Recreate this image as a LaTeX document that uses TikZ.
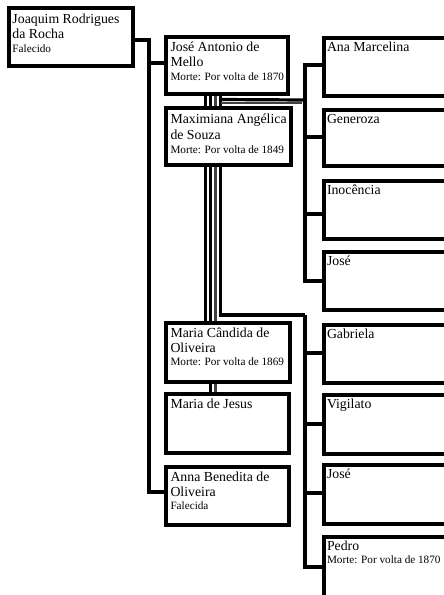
\documentclass[tikz,border=0pt]{standalone}
\usepackage{fontspec}
\setmainfont{Liberation Serif}
\usetikzlibrary{calc}
\pgfdeclarelayer{bg}
\pgfdeclarelayer{lines}
\pgfsetlayers{bg,lines,main}
\tikzset{
  pbox/.style={draw=black, line width=4pt, fill=white, rectangle, inner sep=0pt, outer sep=0pt, anchor=north west},
  conn/.style={draw=black, line width=4pt},
  cpl/.style={draw=black, line width=3.2pt},
  cplgray/.style={draw=black!75, line width=3.2pt},
  nametxt/.style={font=\fontsize{13.8}{15}\selectfont, anchor=base west, inner sep=0pt, outer sep=0pt, text=black},
  smalltxt/.style={font=\fontsize{11.2}{12}\selectfont, anchor=base west, inner sep=0pt, outer sep=0pt, text=black},
}
\begin{document}
\begin{tikzpicture}[x=1pt,y=-1pt]
\useasboundingbox (0,0) rectangle (444,595);
\clip (0,0) rectangle (444,595);
\begin{pgfonlayer}{bg}
\fill[white] (0,0) rectangle (444,595);
\end{pgfonlayer}
% ---------- boxes ----------
\node[pbox, minimum width=124pt, minimum height=58pt] (joaquim) at (9,8) {};
\node[pbox, minimum width=122pt, minimum height=57pt] (jose) at (165.5,37) {};
\node[pbox, minimum width=124.5pt, minimum height=57pt] (maxi) at (166,108) {};
\node[pbox, minimum width=124pt, minimum height=59pt] (mcand) at (166,323) {};
\node[pbox, minimum width=122.7pt, minimum height=59pt] (mjesus) at (166,394) {};
\node[pbox, minimum width=122.7pt, minimum height=58pt] (anna) at (166,467) {};
\node[pbox, minimum width=140pt, minimum height=57.5pt] (ana) at (324,38) {};
\node[pbox, minimum width=140pt, minimum height=56pt] (gener) at (324,110) {};
\node[pbox, minimum width=140pt, minimum height=57.5pt] (inoc) at (324,181) {};
\node[pbox, minimum width=140pt, minimum height=58pt] (josea) at (324,252) {};
\node[pbox, minimum width=140pt, minimum height=58pt] (gabr) at (324,325) {};
\node[pbox, minimum width=140pt, minimum height=58.5pt] (vigi) at (324,395) {};
\node[pbox, minimum width=140pt, minimum height=58.5pt] (joseb) at (324,465) {};
\node[pbox, minimum width=140pt, minimum height=80pt] (pedro) at (324,537) {};
% ---------- texts ----------
\node[nametxt] (t-joa1) at ($(joaquim.north west)+(3.5,15)$) {Joaquim Rodrigues};
\node[nametxt] (t-joa2) at ($(joaquim.north west)+(3.5,30)$) {da Rocha};
\node[smalltxt] (t-joa3) at ($(joaquim.north west)+(3.5,44)$) {Falecido};
\node[nametxt] (t-jos1) at ($(jose.north west)+(5,14)$) {José Antonio de};
\node[nametxt] (t-jos2) at ($(jose.north west)+(5,29)$) {Mello};
\node[smalltxt] (t-jos3) at ($(jose.north west)+(5,43)$) {Morte: Por volta de 1870};
\node[nametxt] (t-max1) at ($(maxi.north west)+(4.5,15.5)$) {Maximiana Angélica};
\node[nametxt] (t-max2) at ($(maxi.north west)+(4.5,31)$) {de Souza};
\node[smalltxt] (t-max3) at ($(maxi.north west)+(4.5,45)$) {Morte: Por volta de 1849};
\node[nametxt] (t-mc1) at ($(mcand.north west)+(4.5,14.6)$) {Maria Cândida de};
\node[nametxt] (t-mc2) at ($(mcand.north west)+(4.5,29.8)$) {Oliveira};
\node[smalltxt] (t-mc3) at ($(mcand.north west)+(4.5,42.8)$) {Morte: Por volta de 1869};
\node[nametxt] (t-mj1) at ($(mjesus.north west)+(4.5,14.6)$) {Maria de Jesus};
\node[nametxt] (t-an1) at ($(anna.north west)+(4.5,14.7)$) {Anna Benedita de};
\node[nametxt] (t-an2) at ($(anna.north west)+(4.5,29.7)$) {Oliveira};
\node[smalltxt] (t-an3) at ($(anna.north west)+(4.5,42.5)$) {Falecida};
\node[nametxt] (t-ana) at ($(ana.north west)+(3,13.7)$) {Ana Marcelina};
\node[nametxt] (t-gen) at ($(gener.north west)+(3,13.7)$) {Generoza};
\node[nametxt] (t-ino) at ($(inoc.north west)+(3,13.7)$) {Inocência};
\node[nametxt] (t-jsa) at ($(josea.north west)+(3,13.7)$) {José};
\node[nametxt] (t-gab) at ($(gabr.north west)+(3,13.7)$) {Gabriela};
\node[nametxt] (t-vig) at ($(vigi.north west)+(3,13.7)$) {Vigilato};
\node[nametxt] (t-jsb) at ($(joseb.north west)+(3,13.7)$) {José};
\node[nametxt] (t-ped1) at ($(pedro.north west)+(3,13.7)$) {Pedro};
\node[smalltxt] (t-ped2) at ($(pedro.north west)+(3,26.3)$) {Morte: Por volta de 1870};
% ---------- connectors ----------
\coordinate (lv) at (149,63);
\coordinate (rg1) at (305,100);
\coordinate (rg2) at (305,315);
\begin{pgfonlayer}{lines}
% Joaquim's children
\draw[conn] ($(joaquim.north east)+(0,31.5)$) -| (lv) |- ($(anna.north west)+(0,25)$);
\draw[conn] (lv) -- ($(jose.north west)+(0,26)$);
% couple lines
\draw[cpl] (205.5,0 |- jose.south) -- (205.5,0 |- mcand.north);
\draw[cpl] (210.5,0 |- jose.south) -- (210.5,0 |- mjesus.north);
\draw[cplgray] (215.5,0 |- jose.south) -- (215.5,0 |- mjesus.north);
\draw[cpl] (220.5,0 |- jose.south) |- (rg2);
\draw[cplgray, line width=2.6pt] (220.5,102.8) -- (302,102.8);
\draw[cpl] (220.5,99.5) -- (rg1);
% first marriage children
\draw[conn] ($(ana.north west)+(0,26.5)$) -| (rg1) |- ($(josea.north west)+(0,28.5)$);
\draw[conn] (rg1) |- ($(gener.north west)+(0,27)$);
\draw[conn] (rg1) |- ($(inoc.north west)+(0,33)$);
% second marriage children
\draw[conn] (rg2) |- ($(pedro.north west)+(0,29.5)$);
\draw[conn] (rg2) |- ($(gabr.north west)+(0,28)$);
\draw[conn] (rg2) |- ($(vigi.north west)+(0,29)$);
\draw[conn] (rg2) |- ($(joseb.north west)+(0,28)$);
\end{pgfonlayer}
\end{tikzpicture}
\end{document}
